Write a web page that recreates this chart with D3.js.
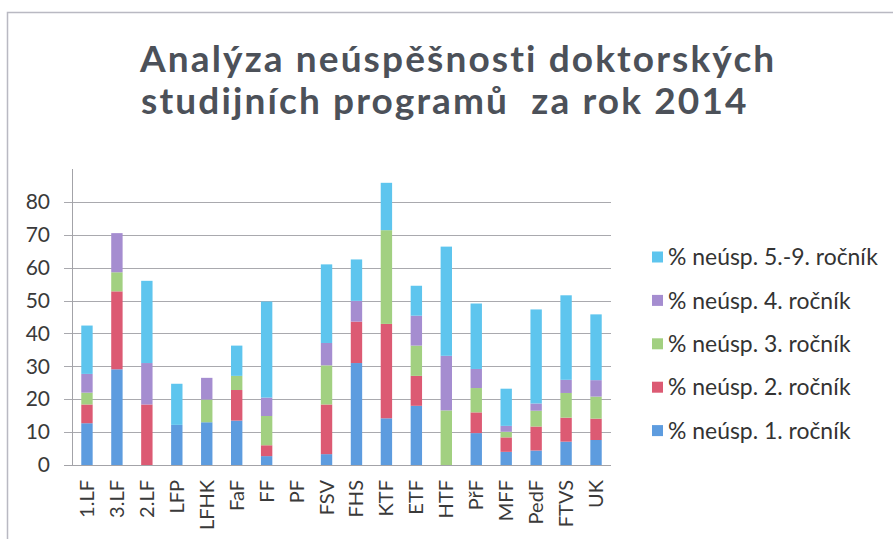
<!DOCTYPE html>
<html lang="cs">
<head>
<meta charset="UTF-8">
<title>Analýza neúspěšnosti</title>
<script src="https://cdn.jsdelivr.net/npm/d3@7"></script>
<style>
    body{ margin:0; background:#fff; }
    .grid line{ stroke:#a9a9ae; stroke-width:1; shape-rendering:crispEdges; }
    .grid path{ display:none; }
    .axis text{ font-family:Lato, 'Open Sans', sans-serif; fill:#3a3a3a; }
    .axis path, .axis line{ stroke:#a3a3a8; shape-rendering:crispEdges; }
</style>
</head>
<body>
<div id="container"></div>
<script>
    // fakulty
    var categories = ["1.LF","3.LF","2.LF","LFP","LFHK","FaF","FF","PF","FSV","FHS","KTF","ETF","HTF","PřF","MFF","PedF","FTVS","UK"]
    // % neúspěšnosti po ročnících
    var r1 = [12.7,29.1,0,12.2,13,13.5,2.7,0,3.3,31,14.2,18,0,9.7,4,4.4,7.1,7.6]
    var r2 = [5.7,23.7,18.4,0,0,9.3,3.3,0,15.1,12.6,28.7,9.1,0,6.3,4.4,7.3,7.3,6.5]
    var r3 = [3.6,5.8,0,0,6.9,4.3,8.9,0,11.9,0,28.5,9.2,16.6,7.4,1.7,4.8,7.5,6.7]
    var r4 = [5.7,11.9,12.6,0,6.6,0,5.6,0,6.8,6.3,0,9.1,16.6,5.8,1.8,2.2,4,5]
    var r5 = [14.7,0,25,12.5,0,9.2,29.2,0,23.9,12.6,14.4,9.1,33.2,19.9,11.3,28.6,25.7,20]
    var seriesNames = ["% neúsp. 1. ročník","% neúsp. 2. ročník","% neúsp. 3. ročník","% neúsp. 4. ročník","% neúsp. 5.-9. ročník"]
    var yTicks = [0,10,20,30,40,50,60,70,80]

    var colors = ["#5d9cdf","#dc5a73","#a2d081","#a58dd0","#5ec5ee"]
    var titleColor = "#4c5159"

    let width = 893
    let height = 539
    let pLeft = 72, pRight = 611, pTop = 169, pBottom = 465

    let svg = d3.select("#container")
        .append("svg")
        .attr("width", width)
        .attr("height", height)

    // rámeček (jen horní a levý okraj je vidět)
    svg.append("path")
        .attr("d", "M7.5,539 V12.5 H893")
        .attr("fill", "none")
        .attr("stroke", "#b9b9c2")
        .attr("stroke-width", 1.5)

    // vejde text do dané šířky
    function fit(sel, w){
        let l = sel.node().getComputedTextLength()
        let fs = parseFloat(sel.attr("font-size"))
        sel.attr("font-size", fs * w / l)
    }

    // titulek - menší písmo, mezery mezi znaky doplní šířku
    let titleSize = 37
    let t1 = svg.append("text")
        .attr("x", 140).attr("y", 72)
        .attr("font-family", "Lato, 'Open Sans', sans-serif")
        .attr("font-weight", "bold")
        .attr("font-size", titleSize)
        .attr("fill", titleColor)
        .text("Analýza neúspěšnosti doktorských")
    let n1 = t1.text().length
    let ls = (637 - t1.node().getComputedTextLength()) / n1
    t1.attr("letter-spacing", ls)
    svg.append("text")
        .attr("x", 141).attr("y", 114)
        .attr("font-family", "Lato, 'Open Sans', sans-serif")
        .attr("font-weight", "bold")
        .attr("font-size", titleSize)
        .attr("letter-spacing", ls)
        .attr("fill", titleColor)
        .style("white-space", "pre")
        .text("studijních programů  za rok 2014")

    let xScale = d3.scaleBand()
        .domain(categories)
        .range([pLeft, pRight])
        .paddingInner(0.62)
        .paddingOuter(0.31)

    let yScale = d3.scaleLinear()
        .domain([0, 90])
        .range([pBottom, pTop])

    // mřížka
    svg.append("g")
        .attr("class", "grid")
        .attr("transform", "translate(" + pLeft + ",0)")
        .call(d3.axisLeft(yScale).tickValues(yTicks.slice(1)).tickSize(-(pRight - pLeft)).tickFormat(""))
        .selectAll("line").attr("x1", -8)

    // data pro stack
    let table = categories.map((c, i) => ({cat: c, s0: r1[i], s1: r2[i], s2: r3[i], s3: r4[i], s4: r5[i]}))
    let keys = ["s0","s1","s2","s3","s4"]
    let stacked = d3.stack().keys(keys)(table)

    svg.append("g")
        .selectAll("g")
        .data(stacked)
        .enter()
        .append("g")
        .attr("fill", (d, i) => colors[i])
        .selectAll("rect")
        .data(d => d)
        .enter()
        .append("rect")
        .attr("x", d => xScale(d.data.cat))
        .attr("width", xScale.bandwidth())
        .attr("y", d => yScale(d[1]))
        .attr("height", d => Math.max(0, yScale(d[0]) - yScale(d[1])))

    // osa y
    let yAxis = svg.append("g")
        .attr("class", "axis")
        .attr("transform", "translate(" + pLeft + ",0)")
        .call(d3.axisLeft(yScale).tickValues(yTicks).tickSize(0).tickPadding(22))
    yAxis.selectAll("text").attr("font-size", 21)
    yAxis.select("path").attr("d", "M0.5," + pTop + "V" + pBottom)

    // osa x
    let xAxis = svg.append("g")
        .attr("class", "axis")
        .attr("transform", "translate(0," + pBottom + ")")
        .call(d3.axisBottom(xScale).tickSize(0).tickPadding(0))
    xAxis.select("path").attr("d", "M" + (pLeft - 8) + ",0.5H" + pRight)
    xAxis.selectAll("text")
        .attr("font-size", 20)
        .attr("transform", "rotate(-90)")
        .attr("text-anchor", "end")
        .attr("dy", "0.35em")
        .attr("x", -15)
        .attr("y", 0)

    // legenda
    let legend = svg.append("g")
        .selectAll("g")
        .data(d3.range(5).reverse())
        .enter()
        .append("g")
        .attr("transform", (d, i) => "translate(652," + (257 + i * 43.4) + ")")
    legend.append("rect")
        .attr("x", 0).attr("y", -5.5)
        .attr("width", 11).attr("height", 11)
        .attr("fill", d => colors[d])
    let lt = legend.append("text")
        .attr("x", 16).attr("dy", "0.36em")
        .attr("font-family", "Lato, 'Open Sans', sans-serif")
        .attr("font-size", 20)
        .attr("fill", "#333")
        .text(d => seriesNames[d])
    let first = lt.filter(d => d === 4)
    fit(first, 210)
    lt.attr("font-size", first.attr("font-size"))
</script>
</body>
</html>
